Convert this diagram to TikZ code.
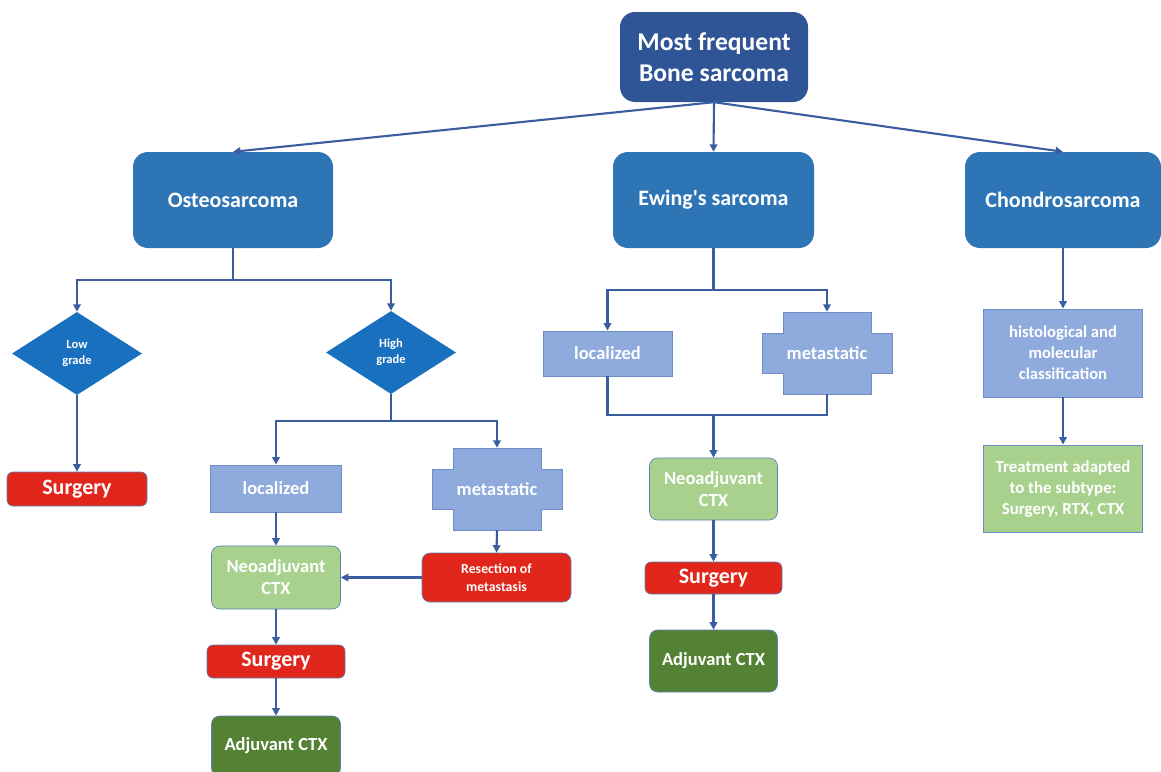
\documentclass[tikz,border=0pt]{standalone}
\usepackage{fontspec}
\setmainfont{Carlito}[Ligatures=TeXOff]
\usetikzlibrary{arrows.meta,shapes.geometric}
\definecolor{topblue}{HTML}{2F5597}
\definecolor{midblue}{HTML}{2E75B6}
\definecolor{diablue}{HTML}{1870BE}
\definecolor{lblue}{HTML}{8FAADC}
\definecolor{lbline}{HTML}{6C8EC6}
\definecolor{boxred}{HTML}{E1261C}
\definecolor{lgreen}{HTML}{A9D18E}
\definecolor{dgreen}{HTML}{548235}
\definecolor{edge}{HTML}{5B7FB5}
\definecolor{conncol}{HTML}{3A5DA0}
\begin{document}
\begin{tikzpicture}[x=1pt,y=-1pt,
  base/.style={rectangle, text=white, align=center, inner sep=0pt},
  bigbox/.style={base, fill=midblue, rounded corners=15pt, minimum height=96pt,
     font=\fontsize{22}{26}\selectfont\bfseries},
  redbox/.style={base, fill=boxred, draw=edge, line width=0.6pt, rounded corners=6pt,
     font=\fontsize{22}{26}\selectfont\bfseries},
  lbbox/.style={base, fill=lblue, draw=lbline, line width=0.9pt,
     font=\fontsize{18.5}{22}\selectfont\bfseries},
  greenbox/.style={base, fill=lgreen, draw=edge, line width=0.6pt, rounded corners=8pt,
     minimum width=129pt, font=\fontsize{18.5}{22}\selectfont\bfseries},
  dgreenbox/.style={base, fill=dgreen, draw=edge, line width=0.6pt, rounded corners=8pt,
     minimum width=129pt, font=\fontsize{18.5}{22}\selectfont\bfseries},
  diam/.style={diamond, fill=diablue, text=white, align=center, inner sep=0pt,
     minimum width=130pt, minimum height=83pt, font=\fontsize{12.5}{16}\selectfont\bfseries},
  conn/.style={draw=conncol, line width=2.1pt, -{Triangle[length=7.5pt,width=7.5pt]}},
  plainline/.style={draw=conncol, line width=2.1pt},
  crossbox/.pic={\filldraw[fill=lblue, draw=lbline, line width=0.9pt]
     (-44,-41) -- (44,-41) -- (44,-20) -- (65,-20) -- (65,20) -- (44,20) -- (44,41)
     -- (-44,41) -- (-44,20) -- (-65,20) -- (-65,-20) -- (-44,-20) -- cycle;}
]
\useasboundingbox (0,0) rectangle (1161,771);
\clip (0,0) rectangle (1161,771);

% top
\node[base, fill=topblue, rounded corners=15pt, minimum width=188pt, minimum height=90pt,
  font=\fontsize{25.6}{31}\selectfont\bfseries] (top) at (714,57) {Most frequent\\Bone sarcoma};

% level 1
\node[bigbox, minimum width=200pt] (osteo) at (233,200) {Osteosarcoma};
\node[bigbox, minimum width=201pt] (ewing) at (713.5,200) {Ewing's sarcoma};
\node[bigbox, minimum width=196pt] (chondro) at (1063,200) {Chondrosarcoma};

% osteosarcoma branch
\node[diam] (low) at (77,353.5) {Low\\grade};
\node[diam] (high) at (391,352.5) {High\\grade};
\node[redbox, minimum width=140pt, minimum height=34pt] (surg1) at (77,489) {Surgery};
\node[lbbox, minimum width=131pt, minimum height=47pt] (loc1) at (276,488.5) {localized};
\pic at (497,489) {crossbox};
\node[base, minimum width=88pt, minimum height=82pt, font=\fontsize{18.5}{22}\selectfont\bfseries] (met1) at (497,489) {metastatic};
\node[redbox, minimum width=149pt, minimum height=49pt, rounded corners=8pt,
  font=\fontsize{13.8}{17.7}\selectfont\bfseries] (res) at (496.5,577.5) {Resection of\\metastasis};
\node[greenbox, minimum height=63pt] (neo1) at (276,577.5) {Neoadjuvant\\CTX};
\node[redbox, minimum width=138pt, minimum height=33pt] (surg2) at (276,661.5) {Surgery};
\node[dgreenbox, minimum height=60pt] (adj1) at (276,746) {Adjuvant CTX};

% ewing branch
\node[lbbox, minimum width=129pt, minimum height=45pt] (loc2) at (607.5,353.5) {localized};
\pic at (827,353) {crossbox};
\node[base, minimum width=88pt, minimum height=82pt, font=\fontsize{18.5}{22}\selectfont\bfseries] (met2) at (827,353) {metastatic};
\coordinate (ej) at (713.5,415);
\node[greenbox, minimum width=128pt, minimum height=62pt] (neo2) at (713.5,489) {Neoadjuvant\\CTX};
\node[redbox, minimum width=137pt, minimum height=32pt] (surg3) at (713.5,578) {Surgery};
\node[dgreenbox, minimum width=128pt, minimum height=62pt] (adj2) at (713.5,661) {Adjuvant CTX};

% chondrosarcoma branch
\node[lbbox, minimum width=159pt, minimum height=88pt, font=\fontsize{16.6}{21}\selectfont\bfseries] (hist) at (1063,353) {histological and\\molecular\\classification};
\node[base, fill=lgreen, draw=lbline, line width=0.9pt, minimum width=159pt, minimum height=87pt,
  font=\fontsize{16.9}{21}\selectfont\bfseries] (treat) at (1063,488.5) {Treatment adapted\\to the subtype:\\Surgery, RTX, CTX};

% connectors
\draw[conn] (top.south) -- (osteo.north);
\draw[conn] (top.south) -- (ewing.north);
\draw[conn] (top.south) -- (chondro.north);

\draw[conn] (osteo.south) -- ++(0,32) -| (low.north);
\draw[conn] (osteo.south) -- ++(0,32) -| (high.north);
\draw[conn] (low.south) -- (surg1.north);
\draw[conn] (high.south) -- ++(0,27) -| (loc1.north);
\draw[conn] (high.south) -- ++(0,27) -| (met1.north);
\draw[conn] (loc1.south) -- (neo1.north);
\draw[conn] (met1.south) -- (res.north);
\draw[conn] (res.west) -- (neo1.east);
\draw[conn] (neo1.south) -- (surg2.north);
\draw[conn] (surg2.south) -- (adj1.north);

\draw[conn] (ewing.south) -- ++(0,42) -| (loc2.north);
\draw[conn] (ewing.south) -- ++(0,42) -| (met2.north);
\draw[plainline] (loc2.south) |- (ej) -| (met2.south);
\draw[conn] (ej) -- (neo2.north);
\draw[conn] (neo2.south) -- (surg3.north);
\draw[conn] (surg3.south) -- (adj2.north);

\draw[conn] (chondro.south) -- (hist.north);
\draw[conn] (hist.south) -- (treat.north);
\end{tikzpicture}
\end{document}
